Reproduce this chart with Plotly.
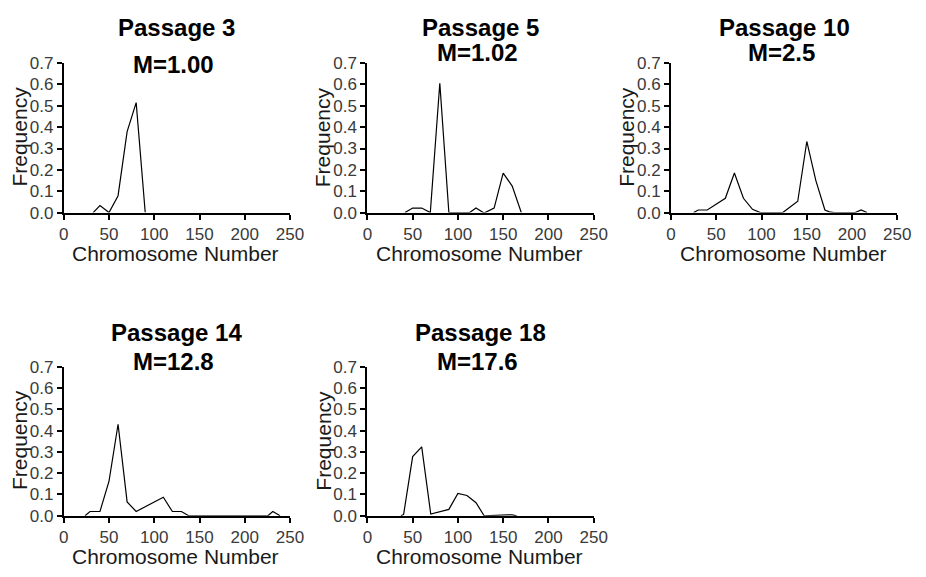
import plotly.graph_objects as go

W, H = 926, 577

# ---- data ----
titles = ["Passage 3", "Passage 5", "Passage 10", "Passage 14", "Passage 18"]
subtitles = ["M=1.00", "M=1.02", "M=2.5", "M=12.8", "M=17.6"]

p3_x = [32.5, 40, 50, 60, 70, 80, 90]
p3_y = [0, 0.033, 0, 0.079, 0.379, 0.515, 0]

p5_x = [41.5, 50, 60, 69.5, 80, 90, 113, 120, 128, 130, 140, 150, 160, 170]
p5_y = [0, 0.021, 0.021, 0, 0.606, 0, 0, 0.021, 0, 0, 0.021, 0.185, 0.124, 0]

p10_x = [25, 30, 40, 50, 60, 70, 80, 90, 98.5, 123.5, 140, 150, 160, 170, 175, 180, 203.5, 210, 216.5]
p10_y = [0, 0.012, 0.012, 0.04, 0.067, 0.185, 0.067, 0.015, 0, 0, 0.053, 0.333, 0.15, 0.012, 0.003, 0, 0, 0.012, 0]

p14_x = [23.5, 29, 40, 50, 60, 70, 80, 110, 120, 130, 138, 225.5, 231, 239]
p14_y = [0, 0.02, 0.02, 0.163, 0.43, 0.065, 0.02, 0.087, 0.02, 0.02, 0, 0, 0.02, 0]

p18_x = [37, 40, 50, 60, 70, 90, 100, 110, 120, 129, 155, 160, 165]
p18_y = [0, 0.006, 0.278, 0.324, 0.008, 0.03, 0.105, 0.095, 0.061, 0, 0.004, 0.004, 0]

series = [(p3_x, p3_y), (p5_x, p5_y), (p10_x, p10_y), (p14_x, p14_y), (p18_x, p18_y)]

x_range = [0, 250]
y_range = [0, 0.7]
x_ticks = [0, 50, 100, 150, 200, 250]
y_ticks = [0, 0.1, 0.2, 0.3, 0.4, 0.5, 0.6, 0.7]

# ---- layout geometry (pixels) ----
cols_px = [(60, 291), (370, 601), (680, 911)]
rows_px = [(56, 210.5), (370, 524)]
panel_pos = [(0, 0), (0, 1), (0, 2), (1, 0), (1, 1)]
title_y = [(19, 57), (19, 45), (19, 45), (335, 365), (335, 365)]

def px_x(p):
    return p / W

def px_y(p):
    return 1 - p / H

FONT = "Liberation Sans, Arial, sans-serif"

fig = go.Figure()
layout = dict(
    width=W, height=H,
    margin=dict(l=0, r=0, t=0, b=0),
    paper_bgcolor="white", plot_bgcolor="white",
    showlegend=False,
    font=dict(family=FONT),
)
annotations = []

for i, ((r, c), (xs, ys)) in enumerate(zip(panel_pos, series)):
    n = "" if i == 0 else str(i + 1)
    x0, x1 = cols_px[c]
    y0, y1 = rows_px[r]
    fig.add_trace(go.Scatter(
        x=xs, y=ys, mode="lines",
        line=dict(color="black", width=1.2),
        xaxis="x" + n, yaxis="y" + n, hoverinfo="skip",
    ))
    common = dict(
        showline=True, linecolor="black", linewidth=2,
        ticks="outside", ticklen=5, tickwidth=2, tickcolor="black",
        showgrid=False, zeroline=False, fixedrange=True,
        tickfont=dict(family=FONT, size=17, color="#3a3a3a"),
    )
    layout["xaxis" + n] = dict(
        domain=[px_x(x0), px_x(x1)], range=x_range, tickvals=x_ticks,
        anchor="y" + n, **common,
    )
    layout["yaxis" + n] = dict(
        domain=[px_y(y1), px_y(y0)], range=y_range, tickvals=y_ticks,
        tickformat=".1f", anchor="x" + n, **common,
    )
    cx = (x0 + x1) / 2
    annotations.append(dict(
        text="<b>%s</b>" % titles[i], x=px_x(cx), y=px_y(title_y[i][0]),
        xref="paper", yref="paper", xanchor="center", yanchor="middle",
        showarrow=False, font=dict(family=FONT, size=24, color="black"),
    ))
    annotations.append(dict(
        text="<b>%s</b>" % subtitles[i], x=px_x(cx - 3), y=px_y(title_y[i][1]),
        xref="paper", yref="paper", xanchor="center", yanchor="middle",
        showarrow=False, font=dict(family=FONT, size=24, color="black"),
    ))
    annotations.append(dict(
        text="Chromosome Number", x=px_x(cx - 1), y=px_y(y1 + 42),
        xref="paper", yref="paper", xanchor="center", yanchor="middle",
        showarrow=False, font=dict(family=FONT, size=21, color="#1a1a1a"),
    ))
    annotations.append(dict(
        text="Frequency", x=px_x(x0 - 45), y=px_y((y0 + y1) / 2 - 1),
        xref="paper", yref="paper", xanchor="center", yanchor="middle",
        textangle=-90,
        showarrow=False, font=dict(family=FONT, size=21, color="#1a1a1a"),
    ))

layout["annotations"] = annotations
fig.update_layout(**layout)
fig.write_html("out.html")
